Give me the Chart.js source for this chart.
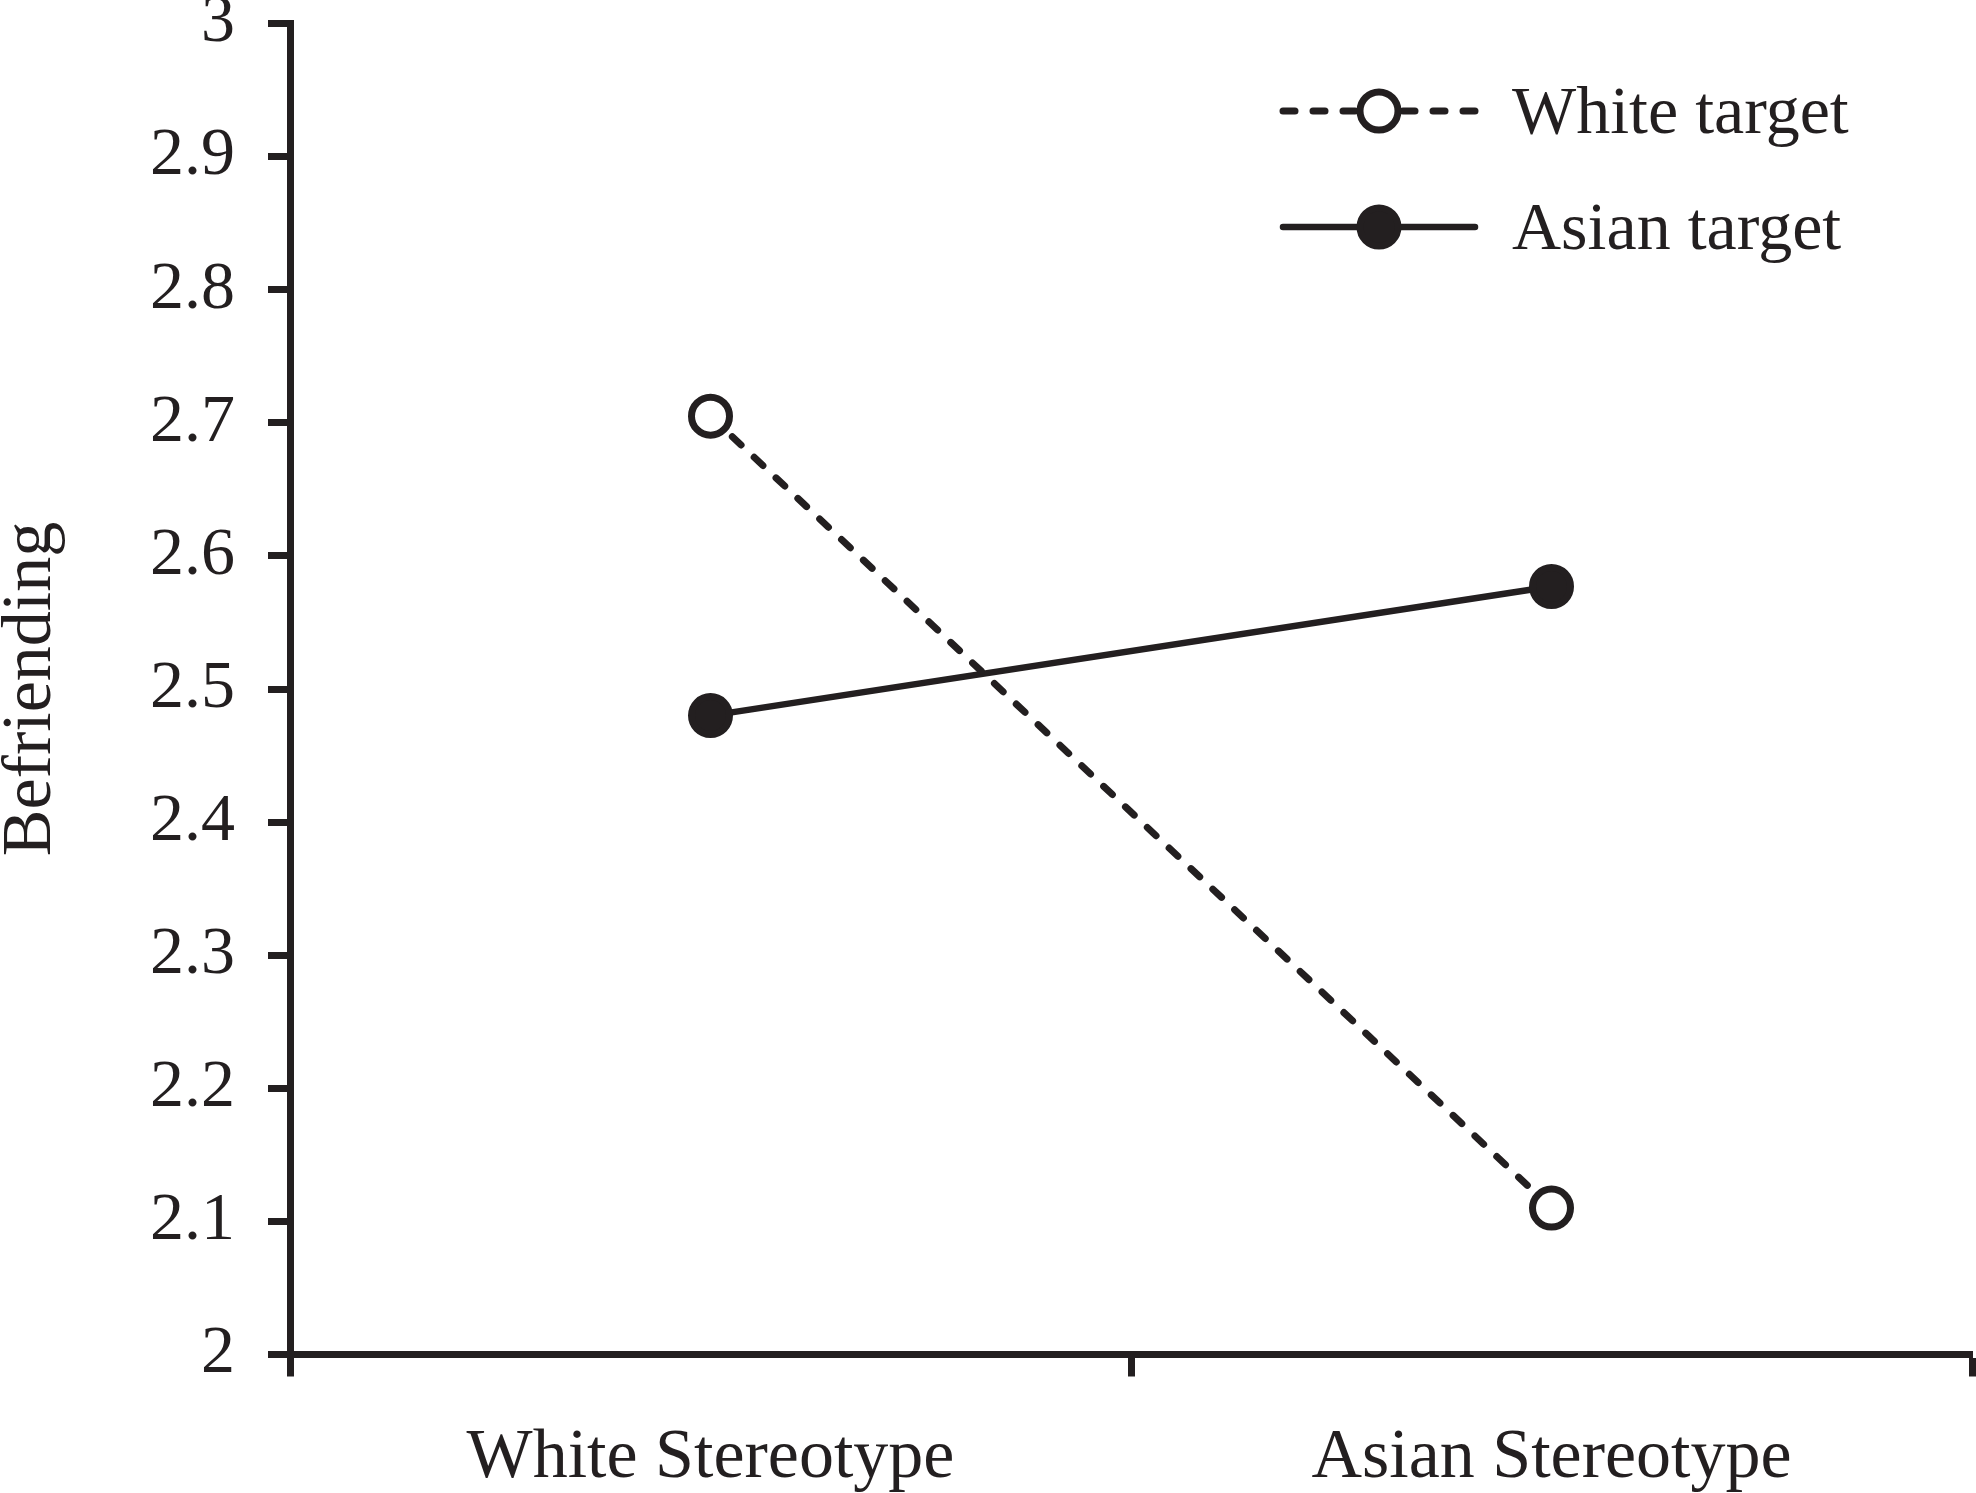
<!DOCTYPE html>
<html>
<head>
<meta charset="utf-8">
<title>Befriending</title>
<script src="https://cdn.jsdelivr.net/npm/chart.js@4.4.1/dist/chart.umd.min.js"></script>
<style>
  html, body { margin: 0; padding: 0; background: #fff; overflow: hidden; }
  #wrap { width: 1976px; height: 1493px; position: relative; }
  #myChart { display: block; }
</style>
</head>
<body>
<div id="wrap"><canvas id="myChart"></canvas></div>
<script>
// data
const categories = ['White Stereotype', 'Asian Stereotype'];
const seriesNames = ['White target', 'Asian target'];
const whiteTarget = [2.705, 2.11];
const asianTarget = [2.48, 2.577];
const yTickValues = [2, 2.1, 2.2, 2.3, 2.4, 2.5, 2.6, 2.7, 2.8, 2.9, 3];
const yTickLabels = ['2', '2.1', '2.2', '2.3', '2.4', '2.5', '2.6', '2.7', '2.8', '2.9', '3'];

const ink = '#231f20';
const serif = 'Liberation Serif';

// legend drawn as line + marker samples, like the original figure
const lineLegend = {
  id: 'lineLegend',
  afterDraw(chart) {
    const ctx = chart.ctx;
    const x0 = 1283, x1 = 1475, xm = 1379, textX = 1512;
    const rows = [111, 227];
    chart.data.datasets.forEach((ds, i) => {
      const y = rows[i];
      ctx.save();
      ctx.strokeStyle = ds.borderColor;
      ctx.lineWidth = ds.borderWidth;
      ctx.lineCap = 'round';
      ctx.setLineDash(ds.borderDash || []);
      ctx.beginPath();
      ctx.moveTo(x0, y);
      ctx.lineTo(x1, y);
      ctx.stroke();
      ctx.setLineDash([]);
      ctx.beginPath();
      ctx.arc(xm, y, ds.pointRadius, 0, Math.PI * 2);
      ctx.fillStyle = ds.pointBackgroundColor;
      ctx.fill();
      ctx.lineWidth = ds.pointBorderWidth;
      ctx.strokeStyle = ds.pointBorderColor;
      ctx.stroke();
      ctx.fillStyle = ink;
      ctx.font = '68px "' + serif + '"';
      ctx.textAlign = 'left';
      ctx.textBaseline = 'middle';
      ctx.fillText(ds.label, textX, y + 4);
      ctx.restore();
    });
  }
};

const ctx = document.getElementById('myChart').getContext('2d');
new Chart(ctx, {
  type: 'line',
  data: {
    labels: categories,
    datasets: [
      {
        label: seriesNames[0],
        data: whiteTarget,
        borderColor: ink,
        borderWidth: 7,
        borderDash: [12, 18],
        borderCapStyle: 'round',
        pointStyle: 'circle',
        pointRadius: 19,
        pointBorderWidth: 7,
        pointBackgroundColor: '#ffffff',
        pointBorderColor: ink,
        fill: false,
        tension: 0
      },
      {
        label: seriesNames[1],
        data: asianTarget,
        borderColor: ink,
        borderWidth: 6.5,
        pointStyle: 'circle',
        pointRadius: 19,
        pointBorderWidth: 7,
        pointBackgroundColor: ink,
        pointBorderColor: ink,
        fill: false,
        tension: 0
      }
    ]
  },
  options: {
    responsive: true,
    maintainAspectRatio: false,
    devicePixelRatio: 1,
    animation: false,
    layout: { autoPadding: false, padding: { left: 0, right: 4, top: 23.5, bottom: 0 } },
    plugins: {
      legend: { display: false },
      tooltip: { enabled: false }
    },
    scales: {
      x: {
        type: 'category',
        offset: true,
        grid: {
          offset: true,
          drawOnChartArea: false,
          drawTicks: true,
          tickLength: 22,
          tickWidth: 7,
          tickColor: ink
        },
        border: { display: true, color: ink, width: 7 },
        ticks: {
          color: ink,
          padding: 40,
          maxRotation: 0,
          font: { family: serif, size: 70 }
        },
        afterFit(scale) {
          scale.height = 138.5;
          scale.paddingLeft = 0;
          scale.paddingRight = 0;
        }
      },
      y: {
        min: 2,
        max: 3,
        grid: {
          drawOnChartArea: false,
          drawTicks: true,
          tickLength: 22,
          tickWidth: 7,
          tickColor: ink
        },
        border: { display: true, color: ink, width: 7 },
        afterBuildTicks(scale) {
          scale.ticks = yTickValues.map(v => ({ value: v }));
        },
        ticks: {
          color: ink,
          padding: 33,
          font: { family: serif, size: 68 },
          callback: (value, index) => yTickLabels[index]
        },
        title: {
          display: true,
          text: 'Befriending',
          color: ink,
          padding: 0,
          font: { family: serif, size: 70, lineHeight: 0.9 }
        },
        afterFit(scale) {
          scale.width = 290;
          scale.paddingTop = 0;
          scale.paddingBottom = 0;
        }
      }
    }
  },
  plugins: [lineLegend]
});
</script>
</body>
</html>
